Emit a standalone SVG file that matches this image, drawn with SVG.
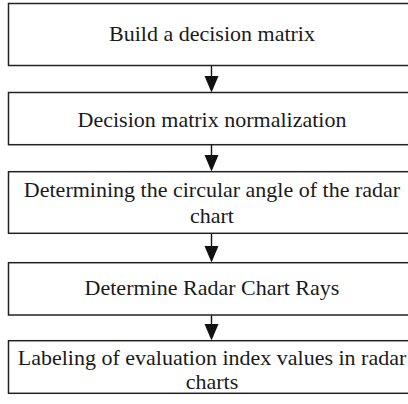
<svg xmlns="http://www.w3.org/2000/svg" width="408" height="404" viewBox="0 0 408 404">
<style>
.box{fill:#fff;stroke:#222;stroke-width:1.5}
text{font-family:'Liberation Serif','Times New Roman','DejaVu Serif',serif;font-size:22px;fill:#1a1a1a;text-anchor:middle}
.c{stroke:#111;stroke-width:1.4;fill:none}
.h{fill:#111}
</style>
<rect width="408" height="404" fill="#fff"/>
<g id="connectors">
<line class="c" x1="211.5" y1="65.5" x2="211.5" y2="76"/>
<path class="h" d="M204.5,76 L218.5,76 L211.5,92.5 Z"/>
<line class="c" x1="211.5" y1="144.7" x2="211.5" y2="155"/>
<path class="h" d="M204.5,155 L218.5,155 L211.5,171.5 Z"/>
<line class="c" x1="211.5" y1="233.3" x2="211.5" y2="246"/>
<path class="h" d="M204.5,246 L218.5,246 L211.5,262.5 Z"/>
<line class="c" x1="211.5" y1="315" x2="211.5" y2="324"/>
<path class="h" d="M204.5,324 L218.5,324 L211.5,340.5 Z"/>
</g>
<g id="n1"><rect class="box" x="8.5" y="3.5" width="407" height="62"/><text font-family="Liberation Serif, serif" x="212" y="41">Build a decision matrix</text></g>
<g id="n2"><rect class="box" x="8.5" y="92.5" width="407" height="52.2"/><text font-family="Liberation Serif, serif" x="212" y="126.5">Decision matrix normalization</text></g>
<g id="n3"><rect class="box" x="8.5" y="171.7" width="407" height="61.6"/><text font-family="Liberation Serif, serif" x="212" y="196.5">Determining the circular angle of the radar</text><text font-family="Liberation Serif, serif" x="212" y="223">chart</text></g>
<g id="n4"><rect class="box" x="8.5" y="262.7" width="407" height="52.3"/><text font-family="Liberation Serif, serif" x="212" y="295">Determine Radar Chart Rays</text></g>
<g id="n5"><rect class="box" x="8.5" y="340.7" width="407" height="52.6"/><text font-family="Liberation Serif, serif" x="212" y="364.5">Labeling of evaluation index values in radar</text><text font-family="Liberation Serif, serif" x="212" y="388.5">charts</text></g>
</svg>
